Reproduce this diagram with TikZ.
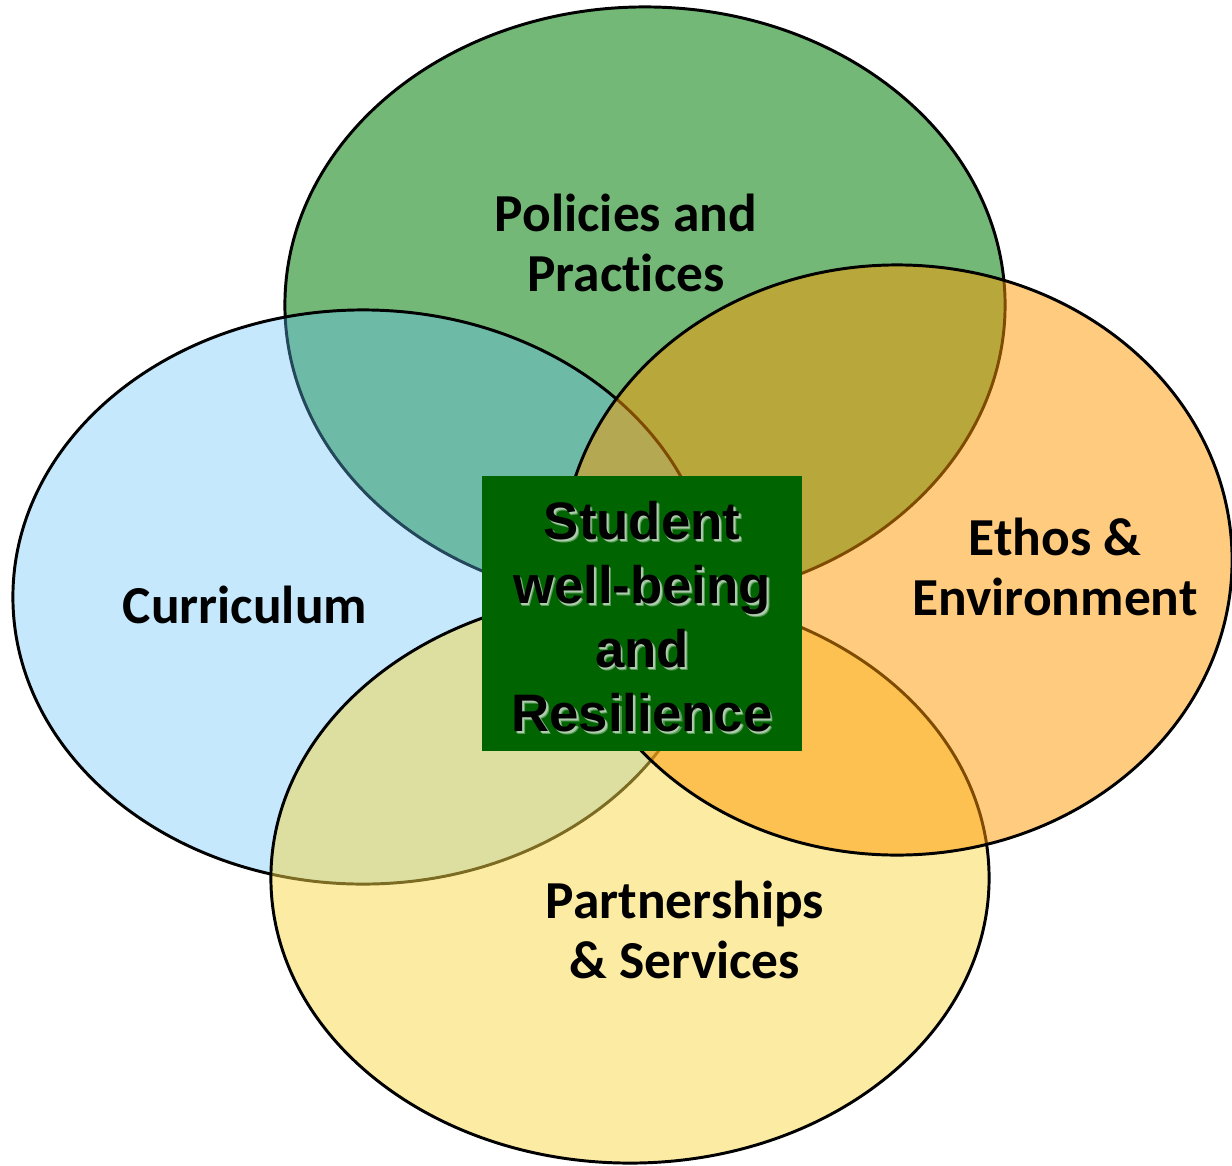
\documentclass[tikz,border=0pt]{standalone}
\usepackage{fontspec}
\usepackage{xcolor}
\usepackage{tikz}
\usetikzlibrary{shapes.geometric}
\newfontfamily\lblfont{Carlito}[Ligatures=NoCommon]
\newfontfamily\corefont{Liberation Sans}
\definecolor{cPol}{HTML}{007E08}
\definecolor{cCur}{HTML}{62C1F9}
\definecolor{cPar}{HTML}{F7D747}
\definecolor{cEth}{HTML}{FD9700}
\definecolor{cCore}{HTML}{006400}
\tikzset{
  ring/.style    = {ellipse, draw=black, line width=2.1pt, inner sep=0pt, outer sep=0pt},
  polring/.style = {ring, fill=cPol, fill opacity=.55},
  curring/.style = {ring, fill=cCur, fill opacity=.37},
  parring/.style = {ring, fill=cPar, fill opacity=.5},
  ethring/.style = {ring, fill=cEth, fill opacity=.5},
  lbl/.style     = {align=center, text=black, font=\lblfont\bfseries\fontsize{38}{43}\selectfont},
  core/.style    = {fill=cCore, inner sep=0pt, minimum width=8cm, minimum height=6.875cm},
  coretxt/.style = {align=center, text=black, font=\corefont\bfseries\fontsize{37.5}{45.5}\selectfont},
  glow/.style    = {coretxt, text=white, text opacity=.5},
}
\newcommand\coretext{Student\\ well-being\\ and\\ Resilience}

\begin{document}
\begin{tikzpicture}[x=0.025cm, y=-0.025cm]
  \useasboundingbox (0,0) rectangle (1232,1166);

  % the four rings, back to front
  \node[polring, minimum width=18cm, minimum height=14.9cm] (pol) at (645,305) {};
  \node[curring, minimum width=17.5cm, minimum height=14.35cm] (cur) at (363,597) {};
  \node[parring, minimum width=17.95cm, minimum height=14.25cm] (par) at (630,878) {};
  \node[ethring, minimum width=16.75cm, minimum height=14.75cm] (eth) at (897,560) {};

  % centre box, text with a soft white shadow
  \node[core] (hub) at (642,613.5) {};
  \node[glow, xshift=2pt, yshift=-2pt, text opacity=.35] (hubsh) at (642,617) {\coretext};
  \node[glow, xshift=1.2pt, yshift=-1.2pt] (hubsh2) at (642,617) {\coretext};
  \node[coretxt] (hubtxt) at (642,617) {\coretext};

  \node[lbl] (polt) at (626,243) {Policies and\\ Practices};
  \node[lbl] (curt) at (245,605) {Curriculum};
  \node[lbl] (etht) at (1055,567) {Ethos \&\\ Environment};
  \node[lbl] (part) at (685,930) {Partnerships\\ \& Services};
\end{tikzpicture}
\end{document}
